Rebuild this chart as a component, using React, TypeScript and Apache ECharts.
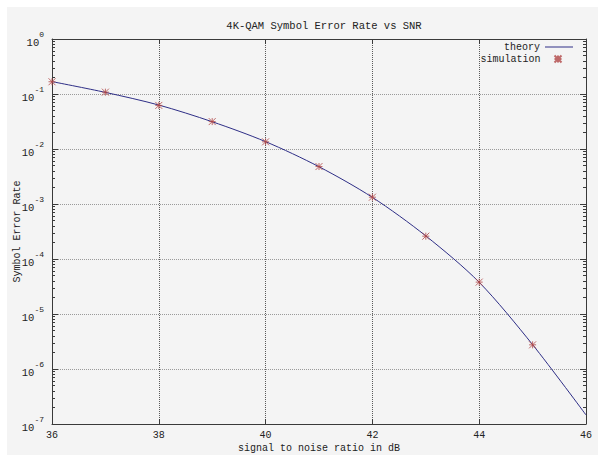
import React, { useEffect, useRef } from "react";
import * as echarts from "echarts";

// SNR grid in dB
const snrTheory = [36, 37, 38, 39, 40, 41, 42, 43, 44, 45, 46];
const serTheory = [0.168, 0.107, 0.063, 0.0313, 0.0136, 0.00476, 0.00132, 2.63e-4, 3.77e-5, 2.77e-6, 1.46e-7];

const snrSim = [36, 37, 38, 39, 40, 41, 42, 43, 44, 45];
const serSim = [0.167, 0.108, 0.062, 0.0315, 0.0135, 0.0048, 0.00133, 2.6e-4, 3.8e-5, 2.75e-6];

const xTicks = [36, 38, 40, 42, 44, 46];
const decades = [-7, -6, -5, -4, -3, -2, -1, 0];
const minorMultipliers = [2, 3, 4, 5, 6, 7, 8, 9];

const FONT = "'Liberation Mono', 'DejaVu Sans Mono', monospace";
const TEXT = "#222";
const AXIS = "#3a3a3a";

const minorTicks: number[] = [];
decades.slice(0, -1).forEach((d) => {
  minorMultipliers.forEach((m) => minorTicks.push(m * Math.pow(10, d)));
});

const asterisk = "path://M0,0L10,10M10,0L0,10M5,0L5,10M0,5L10,5";

export default function App() {
  const ref = useRef<HTMLDivElement>(null);

  useEffect(() => {
    if (!ref.current) return;
    const chart = echarts.init(ref.current, undefined, { renderer: "svg" });

    const grid = { left: 52, right: 12, top: 39, bottom: 31, outerBoundsMode: "none" };
    const yBase = {
      type: "log" as const,
      logBase: 10,
      min: 1e-7,
      max: 1,
      interval: 1,
    };

    chart.setOption({
      animation: false,
      backgroundColor: "#ffffff",
      graphic: [
        {
          type: "rect",
          z: -10,
          shape: { x: 7, y: 7, width: 591, height: 448 },
          style: { fill: "#f4f4f4" },
          silent: true,
        },
      ],
      title: {
        text: "4K-QAM Symbol Error Rate vs SNR",
        left: 319,
        top: 15,
        textAlign: "center",
        textStyle: { fontFamily: FONT, fontSize: 10.5, fontWeight: "normal", color: TEXT },
      },
      legend: [
        {
          data: [{ name: "theory", icon: "rect" }],
          right: 25,
          top: 42,
          padding: 0,
          itemWidth: 28,
          itemHeight: 1,
          align: "right",
          textStyle: { fontFamily: FONT, fontSize: 10, color: TEXT },
        },
        {
          data: ["simulation"],
          right: 34,
          top: 53,
          padding: 0,
          itemWidth: 7,
          itemHeight: 7,
          align: "right",
          textStyle: { fontFamily: FONT, fontSize: 10, color: TEXT, padding: [0, 9, 0, 0] },
        },
      ],
      grid,
      xAxis: [
        {
          type: "value",
          min: 36,
          max: 46,
          interval: 2,
          position: "bottom",
          name: "signal to noise ratio in dB",
          nameLocation: "middle",
          nameGap: 19,
          nameMoveOverlap: false,
          nameTextStyle: { fontFamily: FONT, fontSize: 10, color: TEXT, lineHeight: 11 },
          axisLine: { show: true, lineStyle: { color: AXIS, width: 1 } },
          axisTick: { show: true, inside: true, length: 5, lineStyle: { color: AXIS } },
          axisLabel: {
            fontFamily: FONT,
            fontSize: 10,
            lineHeight: 11,
            color: TEXT,
            margin: 6,
            customValues: xTicks,
          },
          splitLine: { show: true, lineStyle: { color: "#5a5a5a", type: [1, 1], width: 1 } },
        },
        {
          type: "value",
          min: 36,
          max: 46,
          interval: 2,
          position: "top",
          axisLine: { show: true, lineStyle: { color: AXIS, width: 1 } },
          axisTick: { show: true, inside: true, length: 5, lineStyle: { color: AXIS } },
          axisLabel: { show: false },
          splitLine: { show: false },
        },
      ],
      yAxis: [
        {
          ...yBase,
          position: "left",
          name: "Symbol Error Rate",
          nameLocation: "middle",
          nameGap: 30,
          nameMoveOverlap: false,
          nameRotate: 90,
          nameTextStyle: { fontFamily: FONT, fontSize: 10, color: TEXT },
          axisLine: { show: true, lineStyle: { color: AXIS, width: 1 } },
          axisTick: { show: true, inside: true, length: 6, lineStyle: { color: AXIS } },
          axisLabel: {
            margin: 8,
            formatter: (v: number) => `{b|10}{e|${Math.round(Math.log10(v))}}`,
            rich: {
              b: { fontFamily: FONT, fontSize: 10.5, color: TEXT, lineHeight: 18, verticalAlign: "bottom" },
              e: { fontFamily: FONT, fontSize: 8, color: TEXT, lineHeight: 9, verticalAlign: "top" },
            },
          },
          splitLine: { show: true, lineStyle: { color: "#9a9a9a", type: [1, 1], width: 1 } },
        },
        {
          ...yBase,
          position: "left",
          axisLine: { show: false },
          axisTick: { show: true, inside: true, length: 3, customValues: minorTicks, lineStyle: { color: AXIS } },
          axisLabel: { show: false },
          splitLine: { show: false },
        },
        {
          ...yBase,
          position: "right",
          axisLine: { show: true, lineStyle: { color: AXIS, width: 1 } },
          axisTick: { show: true, inside: true, length: 6, lineStyle: { color: AXIS } },
          axisLabel: { show: false },
          splitLine: { show: false },
        },
        {
          ...yBase,
          position: "right",
          axisLine: { show: false },
          axisTick: { show: true, inside: true, length: 3, customValues: minorTicks, lineStyle: { color: AXIS } },
          axisLabel: { show: false },
          splitLine: { show: false },
        },
      ],
      series: [
        {
          name: "theory",
          type: "line",
          xAxisIndex: 0,
          yAxisIndex: 0,
          data: snrTheory.map((x, i) => [x, serTheory[i]]),
          smooth: 0.3,
          symbol: "none",
          showSymbol: false,
          lineStyle: { color: "#2e2e86", width: 1 },
          itemStyle: { color: "#2e2e86" },
          z: 3,
        },
        {
          name: "simulation",
          type: "scatter",
          xAxisIndex: 0,
          yAxisIndex: 0,
          data: snrSim.map((x, i) => [x, serSim[i]]),
          symbol: asterisk,
          symbolSize: 7,
          itemStyle: { color: "none", borderColor: "#b04646", borderWidth: 1 },
          z: 4,
        },
      ],
    });

    return () => chart.dispose();
  }, []);

  return (
    <div
      ref={ref}
      style={{ position: "fixed", left: 0, top: 0, width: 598, height: 455 }}
    />
  );
}
